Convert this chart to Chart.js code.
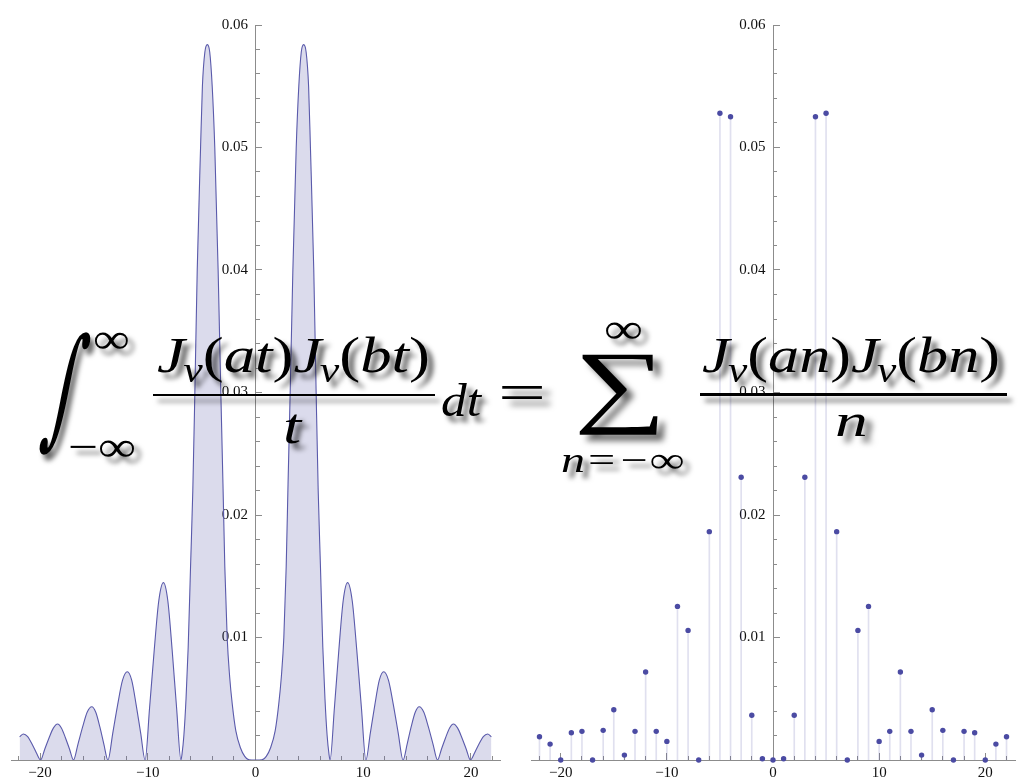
<!DOCTYPE html>
<html>
<head>
<meta charset="utf-8">
<script src="https://cdn.jsdelivr.net/npm/chart.js"></script>
<style>
  html, body { margin: 0; padding: 0; background: #fff; }
  #page { position: relative; width: 1019px; height: 780px; overflow: hidden; background: #fff; }
  #page canvas { position: absolute; top: 0; }
  #formula { position: absolute; left: 0; top: 0; width: 1019px; height: 780px; pointer-events: none; }
  #formula i { font-style: italic; }
  .sub { font-style: italic; font-size: 0.7em; position: relative; top: 0.27em; margin-left: -0.04em; }
</style>
</head>
<body>
<div id="page">
  <canvas id="integralPlot" width="510" height="780" style="left:0"></canvas>
  <canvas id="sumPlot" width="509" height="780" style="left:510px"></canvas>
  <div id="formula"></div>
</div>
<script>
// ---- integrand J_nu(at) J_nu(bt) / t, sampled along t ----
const curveT = [
  -21.9, -21.55, -21.15, -20.75, -20.35, -19.95, -19.56, -19.17, -18.77, -18.38,
  -18.01, -17.64, -17.27, -16.9, -16.48, -16.05, -15.63, -15.2, -14.83, -14.45,
  -14.08, -13.7, -13.25, -12.8, -12.35, -11.9, -11.49, -11.08, -10.66, -10.25,
  -9.83, -9.4, -8.98, -8.55, -8.14, -7.74, -7.33, -6.92, -6.82, -6.65,
  -6.45, -6.25, -6.03, -5.82, -5.63, -5.41, -5.1, -4.93, -4.7, -4.47,
  -4.25, -4.02, -3.78, -3.47, -3.22, -3.02, -2.85, -2.63, -2.4, -2.15,
  -1.83, -1.4, -1.0, -0.6, 0,
  0.6, 1.0, 1.4, 1.83, 2.15, 2.4, 2.63, 2.85, 3.02, 3.22,
  3.47, 3.78, 4.02, 4.25, 4.47, 4.7, 4.93, 5.1, 5.41, 5.63,
  5.82, 6.03, 6.25, 6.45, 6.65, 6.82, 6.92, 7.33, 7.74, 8.14,
  8.55, 8.98, 9.4, 9.83, 10.25, 10.66, 11.08, 11.49, 11.9, 12.35,
  12.8, 13.25, 13.7, 14.08, 14.45, 14.83, 15.2, 15.63, 16.05, 16.48,
  16.9, 17.27, 17.64, 18.01, 18.38, 18.77, 19.17, 19.56, 19.95, 20.35,
  20.75, 21.15, 21.55, 21.9
];
const curveF = [
  0.0019, 0.00212, 0.0019, 0.0013, 0.0006, 0, 0.0009, 0.0018, 0.0026, 0.00294,
  0.0026, 0.0018, 0.0009, 0, 0.0013, 0.0027, 0.0039, 0.00435, 0.0039, 0.0027,
  0.0013, 0, 0.0022, 0.0045, 0.0065, 0.0072, 0.0065, 0.0045, 0.0022, 0,
  0.0043, 0.009, 0.013, 0.01448, 0.013, 0.009, 0.0043, 0, 0.0005, 0.002,
  0.005, 0.0092, 0.0158, 0.022, 0.03, 0.04, 0.05, 0.055, 0.0578, 0.0584,
  0.0578, 0.055, 0.05, 0.04, 0.03, 0.0225, 0.0158, 0.01, 0.0068, 0.0045,
  0.0024, 0.001, 0.0003, 0.00002, 0,
  0.00002, 0.0003, 0.001, 0.0024, 0.0045, 0.0068, 0.01, 0.0158, 0.0225, 0.03,
  0.04, 0.05, 0.055, 0.0578, 0.0584, 0.0578, 0.055, 0.05, 0.04, 0.03,
  0.022, 0.0158, 0.0092, 0.005, 0.002, 0.0005, 0, 0.0043, 0.009, 0.013,
  0.01448, 0.013, 0.009, 0.0043, 0, 0.0022, 0.0045, 0.0065, 0.0072, 0.0065,
  0.0045, 0.0022, 0, 0.0013, 0.0027, 0.0039, 0.00435, 0.0039, 0.0027, 0.0013,
  0, 0.0009, 0.0018, 0.0026, 0.00294, 0.0026, 0.0018, 0.0009, 0, 0.0006,
  0.0013, 0.0019, 0.00212, 0.0019
];

// ---- summand J_nu(an) J_nu(bn) / n at the integers ----
const sumN = [
  -22, -21, -20, -19, -18, -17, -16, -15, -14, -13, -12, -11, -10, -9, -8,
  -7, -6, -5, -4, -3, -2, -1, 0, 1, 2, 3, 4, 5, 6, 7,
  8, 9, 10, 11, 12, 13, 14, 15, 16, 17, 18, 19, 20, 21, 22
];
const sumF = [
  0.0019, 0.0013, 0, 0.00223, 0.00234, 0, 0.00242, 0.0041, 0.0004, 0.00234,
  0.00718, 0.00234, 0.00152, 0.01254, 0.01058, 0, 0.01864, 0.05279, 0.05251, 0.02308,
  0.00365, 0.0001, 0, 0.0001, 0.00365, 0.02308, 0.05251, 0.05279, 0.01864, 0,
  0.01058, 0.01254, 0.00152, 0.00234, 0.00718, 0.00234, 0.0004, 0.0041, 0.00242, 0,
  0.00234, 0.00223, 0, 0.0013, 0.0019
];

// ---- axis ticks ----
const xMajorTicks = [-20, -10, 0, 10, 20];
const xMinorTicks = [-22, -18, -16, -14, -12, -8, -6, -4, -2, 2, 4, 6, 8, 12, 14, 16, 18, 22];
const yMajorTicks = [0.01, 0.02, 0.03, 0.04, 0.05, 0.06];
const yMinorTicks = [0.002, 0.004, 0.006, 0.008, 0.012, 0.014, 0.016, 0.018,
  0.022, 0.024, 0.026, 0.028, 0.032, 0.034, 0.036, 0.038,
  0.042, 0.044, 0.046, 0.048, 0.052, 0.054, 0.056, 0.058];

const AXIS_GRAY = '#8c8c8c';
const LABEL_COLOR = '#111';
const TICK_FONT = { family: '"Liberation Serif", "Times New Roman", serif', size: 15 };
const LINE_BLUE = '#5a5aab';
const FILL_BLUE = 'rgba(90, 90, 170, 0.22)';
const DOT_BLUE = '#4b4ba3';
const STEM_BLUE = 'rgba(90, 90, 170, 0.19)';

const fmtX = v => (v < 0 ? '\u2212' + Math.abs(v) : String(v));
// en space keeps the value clear of the axis line it sits against
const fmtY = v => v.toFixed(2) + '\u2002';
const useTicks = list => s => { s.ticks = list.map(v => ({ value: v })); };

function buildScales(xMin, xMax) {
  return {
    x: {
      type: 'linear', position: 'bottom', min: xMin, max: xMax, offset: false,
      afterBuildTicks: useTicks(xMajorTicks),
      afterFit: s => { s.height = 20; s.paddingLeft = 0; s.paddingRight = 0; },
      ticks: { callback: fmtX, font: TICK_FONT, color: LABEL_COLOR, padding: 11, maxRotation: 0, autoSkip: false },
      grid: { drawOnChartArea: false, drawTicks: true, tickLength: -7, tickColor: AXIS_GRAY, offset: false },
      border: { display: true, color: AXIS_GRAY, width: 1 }
    },
    xMinor: {
      type: 'linear', axis: 'x', position: 'bottom', weight: -1, min: xMin, max: xMax, offset: false,
      afterBuildTicks: useTicks(xMinorTicks),
      afterFit: s => { s.height = 0; s.paddingLeft = 0; s.paddingRight = 0; },
      ticks: { display: false, autoSkip: false },
      grid: { drawOnChartArea: false, drawTicks: true, tickLength: -4, tickColor: AXIS_GRAY, offset: false },
      border: { display: false }
    },
    y: {
      type: 'linear', position: { x: 0 }, min: 0, max: 0.06,
      afterBuildTicks: useTicks(yMajorTicks),
      afterFit: s => { s.width = 0; s.paddingTop = 0; s.paddingBottom = 0; },
      ticks: { callback: fmtY, font: TICK_FONT, color: LABEL_COLOR, padding: 13, autoSkip: false },
      grid: { drawOnChartArea: false, drawTicks: true, tickLength: -7, tickColor: AXIS_GRAY },
      border: { display: true, color: AXIS_GRAY, width: 1 }
    },
    yMinor: {
      type: 'linear', axis: 'y', position: { x: 0 }, min: 0, max: 0.06,
      afterBuildTicks: useTicks(yMinorTicks),
      afterFit: s => { s.width = 0; s.paddingTop = 0; s.paddingBottom = 0; },
      ticks: { display: false, autoSkip: false },
      grid: { drawOnChartArea: false, drawTicks: true, tickLength: -4, tickColor: AXIS_GRAY },
      border: { display: false }
    }
  };
}

const common = {
  responsive: false,
  animation: false,
  devicePixelRatio: 1,
  events: [],
  plugins: { legend: { display: false }, tooltip: { enabled: false } }
};

// Left: the continuous integrand, filled down to the axis
new Chart(document.getElementById('integralPlot'), {
  type: 'line',
  data: {
    datasets: [{
      data: curveT.map((t, i) => ({ x: t, y: curveF[i] })),
      xAxisID: 'x', yAxisID: 'y',
      borderColor: LINE_BLUE, borderWidth: 1.1,
      backgroundColor: FILL_BLUE, fill: 'origin',
      pointRadius: 0, cubicInterpolationMode: 'monotone'
    }]
  },
  options: Object.assign({}, common, {
    layout: { padding: { left: 11, right: 10, top: 25, bottom: 0 } },
    scales: buildScales(-22.7, 22.7)
  })
});

// Right: the summand at each integer n, drawn as dots on thin stems
const sumPoints = sumN.map((n, i) => ({ x: n, y: sumF[i] }));
new Chart(document.getElementById('sumPlot'), {
  type: 'scatter',
  data: {
    datasets: [
      {
        type: 'scatter', data: sumPoints, xAxisID: 'x', yAxisID: 'y', order: 0,
        pointRadius: 2.7, pointBorderWidth: 0, pointBackgroundColor: DOT_BLUE, clip: false
      },
      {
        type: 'bar', data: sumPoints, xAxisID: 'x', yAxisID: 'y', order: 1,
        backgroundColor: STEM_BLUE, borderWidth: 0, barThickness: 1, grouped: false
      }
    ]
  },
  options: Object.assign({}, common, {
    layout: { padding: { left: 21, right: 1, top: 25, bottom: 0 } },
    scales: buildScales(-22.8, 22.8)
  })
});

// ---- the identity typeset over both plots ----
const layer = document.getElementById('formula');
const meas = document.createElement('canvas').getContext('2d');
const SERIF = 'Liberation Serif';
const SHADOW = '5px 6px 5px rgba(0,0,0,0.6)';

function makeEl(css) {
  const el = document.createElement('div');
  el.style.cssText = 'position:absolute;left:0;top:0;width:max-content;white-space:nowrap;' +
    'line-height:1;color:#000;text-shadow:' + SHADOW + ';' + css;
  layer.appendChild(el);
  return el;
}
function baselineOf(el) {
  const p = document.createElement('span');
  p.style.cssText = 'display:inline-block;width:0;height:0;vertical-align:baseline';
  el.appendChild(p);
  const b = p.getBoundingClientRect().top - el.getBoundingClientRect().top;
  el.removeChild(p);
  return b;
}
// Place a run of text so that its inked extent fills [x0, y0, x1, y1]
function setInk(text, style, box, family) {
  const fam = family || SERIF;
  meas.font = `${style} 100px "${fam}"`;
  let m = meas.measureText(text);
  const size = 100 * (box[3] - box[1]) / (m.actualBoundingBoxAscent + m.actualBoundingBoxDescent);
  meas.font = `${style} ${size}px "${fam}"`;
  m = meas.measureText(text);
  const l = -m.actualBoundingBoxLeft, r = m.actualBoundingBoxRight, a = m.actualBoundingBoxAscent;
  const sx = (box[2] - box[0]) / (r - l);
  const el = makeEl(`font:${style} ${size}px "${fam}"`);
  el.textContent = text;
  const bl = baselineOf(el);
  el.style.transformOrigin = `0px ${bl}px`;
  el.style.transform = `scaleX(${sx})`;
  el.style.left = (box[0] - sx * l) + 'px';
  el.style.top = (box[1] + a - bl) + 'px';
}
// A tall sign stretched vertically by sy and leaned over so it spans the box
// without thickening its stroke
function setLeaning(text, family, box, sy) {
  const H = box[3] - box[1], W = box[2] - box[0];
  meas.font = `normal 100px "${family}"`;
  let m = meas.measureText(text);
  const size = 100 * H / ((m.actualBoundingBoxAscent + m.actualBoundingBoxDescent) * sy);
  meas.font = `normal ${size}px "${family}"`;
  m = meas.measureText(text);
  const l = -m.actualBoundingBoxLeft, r = m.actualBoundingBoxRight;
  const a = m.actualBoundingBoxAscent, d = m.actualBoundingBoxDescent;
  const lean = Math.max(0, (W - (r - l)) / H);
  const el = makeEl(`font:normal ${size}px "${family}"`);
  el.style.textShadow = `5px ${(6 / sy).toFixed(2)}px 4px rgba(0,0,0,0.6)`;
  el.textContent = text;
  const bl = baselineOf(el);
  el.style.transformOrigin = `0px ${bl}px`;
  el.style.transform = `skewX(${-Math.atan(lean)}rad) scale(1, ${sy})`;
  el.style.left = (box[0] + lean * d * sy - l) + 'px';
  el.style.top = (box[1] + sy * a - bl) + 'px';
}
// Place a numerator with subscripts between x0 and x1, on the given baseline;
// its parentheses are parenH tall
function setNumerator(html, x0, x1, baseline, parenH) {
  meas.font = `normal 100px "${SERIF}"`;
  const pm = meas.measureText('(');
  const size = 100 * parenH / (pm.actualBoundingBoxAscent + pm.actualBoundingBoxDescent);
  const el = makeEl(`font:normal ${size}px "${SERIF}"`);
  el.innerHTML = html;
  const bl = baselineOf(el);
  const w = el.getBoundingClientRect().width;
  const sx = (x1 - x0) / w;
  el.style.transformOrigin = `0px ${bl}px`;
  el.style.transform = `scaleX(${sx})`;
  el.style.left = x0 + 'px';
  el.style.top = (baseline - bl) + 'px';
}
function setRule(x0, x1, y, h) {
  const el = document.createElement('div');
  el.style.cssText = `position:absolute;left:${x0}px;top:${y}px;width:${x1 - x0}px;height:${h}px;` +
    'background:#000;box-shadow:5px 6px 5px rgba(0,0,0,0.55)';
  layer.appendChild(el);
}

// integral side
setLeaning('\u222B', 'DejaVu Serif', [38, 331, 93, 455], 2.0);
setInk('\u221E', 'normal', [94, 332, 128, 349]);
setInk('\u2212\u221E', 'normal', [71, 440, 135, 457]);
setNumerator('<i>J</i><span class="sub">\u03BD</span>(<i>at</i>)<i>J</i><span class="sub">\u03BD</span>(<i>bt</i>)',
  157, 430, 372, 47);
setRule(153, 435, 393.5, 2.5);
setInk('t', 'italic', [286, 414, 304, 443]);
setInk('dt', 'italic', [442, 383, 483, 416]);
setInk('=', 'normal', [501, 386, 542, 399]);
// sum side
setInk('\u221E', 'normal', [605, 322, 641, 339]);
setInk('\u2211', 'normal', [580, 354, 659, 435]);
setInk('n=\u2212\u221E', 'italic', [562, 454, 683, 472]);
setNumerator('<i>J</i><span class="sub">\u03BD</span>(<i>an</i>)<i>J</i><span class="sub">\u03BD</span>(<i>bn</i>)',
  702, 1000, 372, 47);
setRule(700, 1007, 393, 2.5);
setInk('n', 'italic', [836, 414, 866, 436]);
</script>
</body>
</html>
